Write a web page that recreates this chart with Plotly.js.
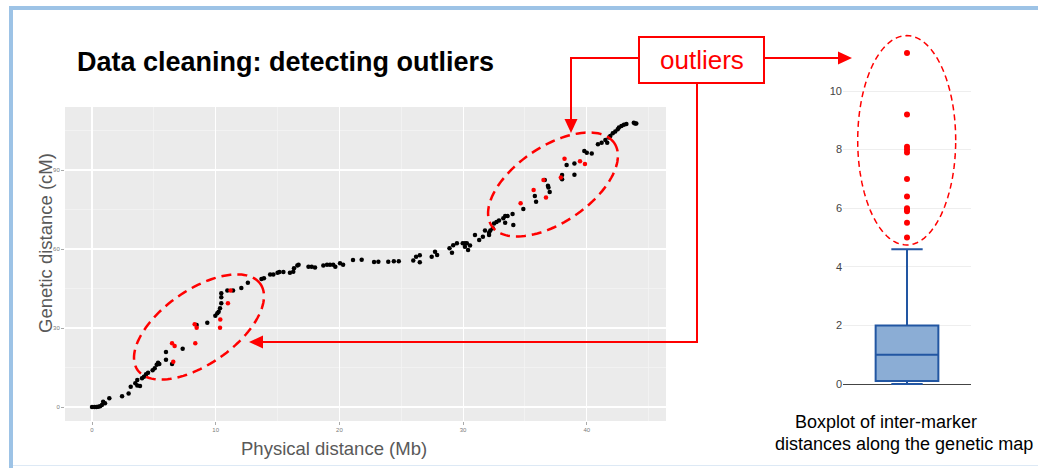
<!DOCTYPE html>
<html><head><meta charset="utf-8">
<script src="https://cdn.plot.ly/plotly-3.0.1.min.js"></script>
<style>html,body{margin:0;padding:0;background:#fff;}#chart{width:1038px;height:468px;}</style>
</head><body><div id="chart"></div>
<script>
// ---- scatter: markers kept (black) ----
const physicalMb = [0.0,0.2,0.35,0.5,0.65,0.8,0.9,1.05,1.4,2.43,2.96,3.13,3.5,3.66,3.66,3.88,4.04,4.2,4.37,4.53,4.9,5.07,5.23,5.34,5.44,5.98,5.98,6.47,7.33,8.46,9.32,9.97,10.13,10.24,10.35,10.45,10.45,10.45,10.94,11.4,12.07,12.6,13.7,13.9,14.4,14.66,15.0,15.15,15.47,16.0,16.27,16.33,16.6,16.7,17.5,17.76,18.03,18.7,19.0,19.24,19.5,19.67,20.05,20.3,21.1,21.8,22.8,23.15,23.95,24.4,24.8,25.97,26.2,26.5,26.5,27.46,27.73,27.9,28.9,29.1,29.2,29.5,29.97,30.15,30.3,30.15,30.4,30.56,30.96,31.3,31.6,31.77,32.1,32.1,32.2,32.4,32.5,32.7,32.9,33.25,33.4,33.6,34.0,33.4,34.06,34.87,35.8,35.9,36.6,36.86,36.9,37.0,38.0,38.0,38.37,39.0,39.0,39.8,40.0,40.4,40.9,41.2,41.5,41.65,41.8,41.9,42.1,42.3,42.5,42.6,42.8,43.0,43.2,43.8,43.9,44.0];
const geneticCM = [0,0,0,0.1,0.3,0.8,2.0,1.4,3.3,4.1,5.1,7.7,9.0,10.3,8.2,8.0,10.9,11.5,12.4,13.0,14.0,14.7,16.0,16.8,16.3,20.9,17.9,16.3,22.1,31.1,32.0,34.7,35.6,36.2,37.5,39.4,41.7,43.2,44.2,44.2,45.2,47.2,48.6,48.9,50.3,50.3,51.0,51.3,51.3,51.0,51.4,52.7,53.7,54.0,53.3,53.3,53.0,53.7,54.0,54.0,54.0,53.3,54.6,54.0,55.8,55.9,55.1,55.2,55.2,55.4,55.4,55.6,57.1,57.6,55.0,57.1,59.0,57.7,60.3,58.6,61.4,62.2,62.2,62.2,62.2,60.9,59.6,61.3,65.3,63.4,64.7,67.0,66.2,65.3,67.0,67.9,69.7,70.3,70.8,71.7,72.5,72.5,73.3,70.0,69.1,75.2,80.1,78.0,86.2,84.0,83.4,81.7,88.1,86.5,91.9,92.5,88.2,97.2,96.6,96.3,99.8,100.4,101.4,100.4,102.4,102.9,104.0,104.6,105.5,106.2,106.7,107.2,107.5,108.0,107.7,107.7];
// ---- scatter: outlier markers (red) ----
const outlierPhysicalMb = [6.57,6.47,6.68,8.3,8.46,8.35,10.35,10.37,10.99,11.2,34.65,35.7,36.5,36.7,37.9,38.2,39.45,39.85];
const outlierGeneticCM = [17.2,24.2,23.2,31.4,30.1,24.2,30.1,33.2,39.4,44.2,77.4,82.4,86.2,79.6,87.2,94.3,93.3,92.3];
const scatterXTicks = [0,10,20,30,40];
const scatterYTicks = [0,30,60,90];
// ---- boxplot of inter-marker distances ----
const boxLowerFence = [0];
const boxQ1 = [0.1];
const boxMedian = [1.0];
const boxQ3 = [2.0];
const boxUpperFence = [4.6];
const boxOutliers = [11.3,9.2,8.1,8.0,7.9,7.0,6.4,6.0,5.95,5.9,5.5,5.0];
const boxYTicks = [0,2,4,6,8,10];

const W = 1038, H = 468;
const px = v => v / W;
const py = v => 1 - v / H;
const RED = '#ff0000';
const FONT = 'Liberation Sans, Arial, sans-serif';

function ellipsePath(cx, cy, a, b, deg) {
  const th = deg * Math.PI / 180;
  let s = '';
  for (let i = 0; i <= 120; i++) {
    const t = i / 120 * 2 * Math.PI;
    const dx = a * Math.cos(t), dy = b * Math.sin(t);
    const X = cx + dx * Math.cos(th) - dy * Math.sin(th);
    const Y = cy - (dx * Math.sin(th) + dy * Math.cos(th));
    s += (i === 0 ? 'M' : 'L') + px(X).toFixed(5) + ',' + py(Y).toFixed(5);
  }
  return s + 'Z';
}
function tri(pts) {
  return {type:'path', xref:'paper', yref:'paper',
    path:'M' + pts.map(p => px(p[0]).toFixed(5) + ',' + py(p[1]).toFixed(5)).join('L') + 'Z',
    fillcolor:RED, line:{width:0}};
}
function line(x0, y0, x1, y1, w) {
  return {type:'line', xref:'paper', yref:'paper', x0:px(x0), y0:py(y0), x1:px(x1), y1:py(y1), line:{color:RED, width:w||2}};
}

const traces = [
  {type:'scatter', mode:'markers', x:physicalMb, y:geneticCM, xaxis:'x', yaxis:'y',
   marker:{color:'#000', size:4.5}, hoverinfo:'skip'},
  {type:'scatter', mode:'markers', x:outlierPhysicalMb, y:outlierGeneticCM, xaxis:'x', yaxis:'y',
   marker:{color:RED, size:4.5}, hoverinfo:'skip'},
  {type:'box', x:[0], q1:boxQ1, median:boxMedian, q3:boxQ3, lowerfence:boxLowerFence, upperfence:boxUpperFence,
   xaxis:'x2', yaxis:'y2', width:0.49, whiskerwidth:0.5, boxpoints:false,
   fillcolor:'#8badd5', line:{color:'#2256a2', width:2}, hoverinfo:'skip'},
  {type:'scatter', mode:'markers', x:boxOutliers.map(() => 0), y:boxOutliers, xaxis:'x2', yaxis:'y2',
   marker:{color:RED, size:6}, cliponaxis:false, hoverinfo:'skip'}
];

const shapes = [
  // slide frame
  {type:'rect', xref:'paper', yref:'paper', x0:px(9), x1:px(1038), y0:py(6), y1:py(10), fillcolor:'#9dc3e6', line:{width:0}, layer:'below'},
  {type:'rect', xref:'paper', yref:'paper', x0:px(9), x1:px(13), y0:py(6), y1:py(468), fillcolor:'#9dc3e6', line:{width:0}, layer:'below'},
  {type:'line', xref:'paper', yref:'paper', x0:px(13), x1:px(1038), y0:py(465.5), y1:py(465.5), line:{color:'#dde9f5', width:1}, layer:'below'},
  // ggplot panel background
  {type:'rect', xref:'paper', yref:'paper', x0:px(65), x1:px(666), y0:py(421), y1:py(107), fillcolor:'#ebebeb', line:{width:0}, layer:'below'},
  // dashed ellipses
  {type:'path', xref:'paper', yref:'paper', path:ellipsePath(199, 327, 75, 37, 35), line:{color:RED, width:2.5, dash:'10px,6px'}},
  {type:'path', xref:'paper', yref:'paper', path:ellipsePath(553, 184.5, 74, 38, 34), line:{color:RED, width:2.5, dash:'10px,6px'}},
  {type:'path', xref:'paper', yref:'paper', path:ellipsePath(906.7, 140.3, 49, 104.7, 0), line:{color:RED, width:1.5, dash:'6px,4px'}},
  // connectors
  line(764, 58, 840, 58),
  line(640, 58, 571, 58),
  line(571, 57, 571, 121),
  line(697, 83, 697, 342),
  line(698, 342, 261, 342),
  tri([[852,58],[838,51.5],[838,64.5]]),
  tri([[571,133],[564.5,119],[577.5,119]]),
  tri([[249,342],[263,335.5],[263,348.5]]),
  // outliers box
  {type:'rect', xref:'paper', yref:'paper', x0:px(639), x1:px(764), y0:py(83), y1:py(37), fillcolor:'#fff', line:{color:RED, width:2}}
];

const annotations = [
  {xref:'paper', yref:'paper', x:px(75), y:py(62), xanchor:'left', yanchor:'middle', showarrow:false,
   text:'<b>Data cleaning: detecting outliers</b>', font:{family:FONT, size:27, color:'#000'}},
  {xref:'paper', yref:'paper', x:px(701.5), y:py(60), xanchor:'center', yanchor:'middle', showarrow:false,
   text:'outliers', font:{family:FONT, size:26, color:RED}},
  {xref:'paper', yref:'paper', x:px(334), y:py(448), xanchor:'center', yanchor:'middle', showarrow:false,
   text:'Physical distance (Mb)', font:{family:FONT, size:18.5, color:'#595959'}},
  {xref:'paper', yref:'paper', x:px(45), y:py(243), xanchor:'center', yanchor:'middle', showarrow:false, textangle:-90,
   text:'Genetic distance (cM)', font:{family:FONT, size:18.5, color:'#595959'}},
  {xref:'paper', yref:'paper', x:px(885.5), y:py(422), xanchor:'center', yanchor:'middle', showarrow:false,
   text:'Boxplot of inter-marker', font:{family:FONT, size:18, color:'#000'}},
  {xref:'paper', yref:'paper', x:px(903.5), y:py(444), xanchor:'center', yanchor:'middle', showarrow:false,
   text:'distances along the genetic map', font:{family:FONT, size:18, color:'#000'}}
];

const layout = {
  width:W, height:H, margin:{l:0, r:0, t:0, b:0}, paper_bgcolor:'#fff', plot_bgcolor:'rgba(0,0,0,0)',
  showlegend:false, font:{family:FONT},
  xaxis:{domain:[px(65), px(666)], range:[-2.183, 46.403], anchor:'y', tickmode:'array', tickvals:scatterXTicks,
    ticks:'outside', ticklen:3, tickcolor:'#aaaaaa', tickfont:{size:6, color:'#7a7a7a'},
    showgrid:true, gridcolor:'#ffffff', gridwidth:1.2,
    minor:{dtick:5, tick0:0, showgrid:true, gridcolor:'#f5f5f5', gridwidth:0.7},
    zeroline:false, showline:false, automargin:false, fixedrange:true},
  yaxis:{domain:[py(421), py(107)], range:[-5.317, 113.94], anchor:'x', tickmode:'array', tickvals:scatterYTicks,
    ticks:'outside', ticklen:3, tickcolor:'#aaaaaa', tickfont:{size:6, color:'#7a7a7a'},
    showgrid:true, gridcolor:'#ffffff', gridwidth:1.2,
    minor:{dtick:15, tick0:15, showgrid:true, gridcolor:'#f5f5f5', gridwidth:0.7},
    zeroline:false, showline:false, automargin:false, fixedrange:true},
  xaxis2:{domain:[px(843), px(971)], range:[-0.5, 0.5], anchor:'y2', showticklabels:false, showgrid:false,
    zeroline:false, showline:false, ticks:'', automargin:false, fixedrange:true},
  yaxis2:{domain:[py(388), py(40)], range:[-0.1365, 11.741], anchor:'x2', tickmode:'array', tickvals:boxYTicks,
    showgrid:true, gridcolor:'#eeeeee', gridwidth:1, zeroline:true, zerolinecolor:'#444444', zerolinewidth:1,
    ticks:'', tickfont:{size:11, color:'#444444'}, showline:false, automargin:false, fixedrange:true},
  shapes:shapes, annotations:annotations
};

Plotly.newPlot('chart', traces, layout, {staticPlot:true, displayModeBar:false});
</script>
</body></html>
